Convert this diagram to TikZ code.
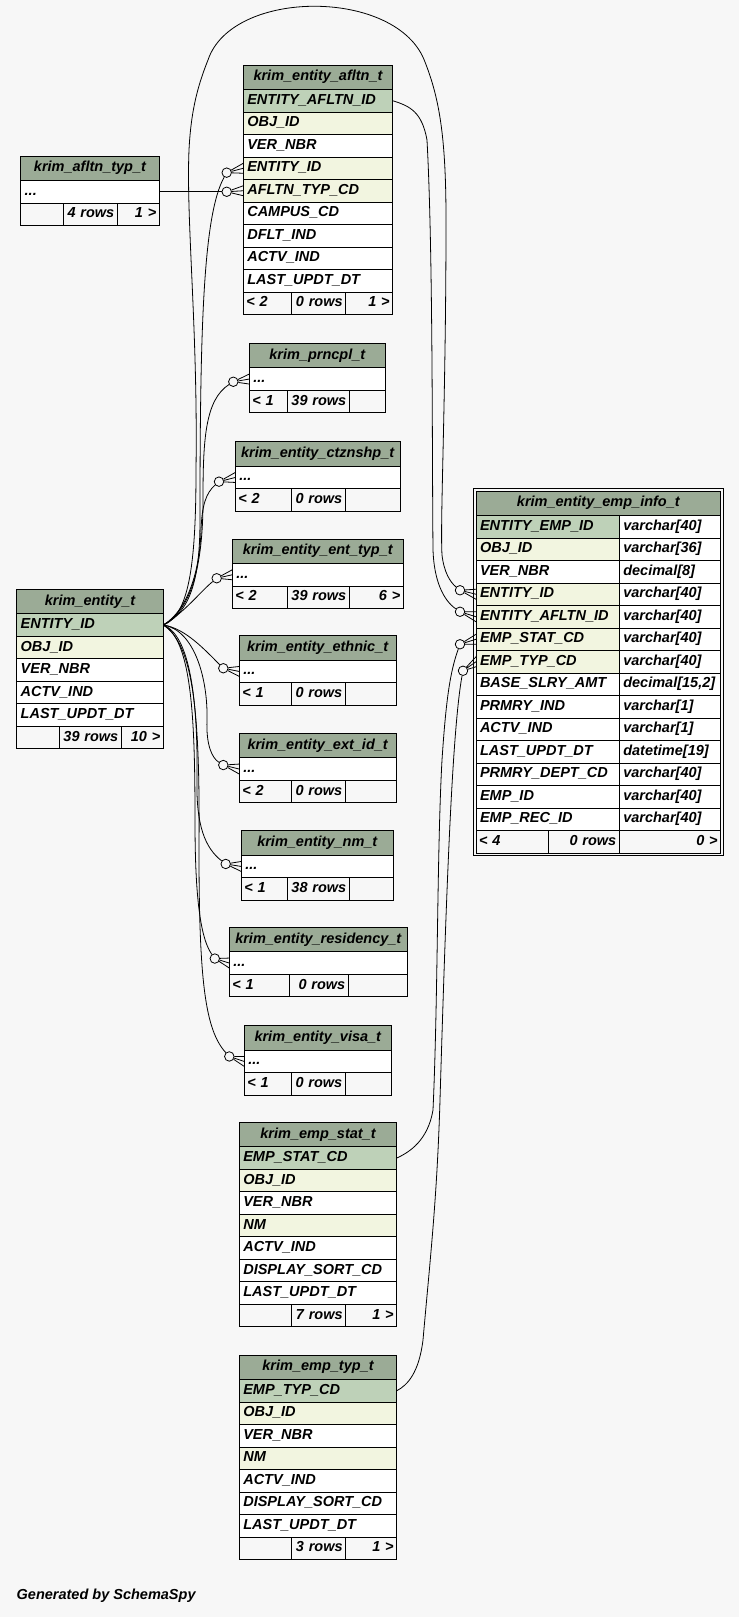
\documentclass[tikz,border=0pt]{standalone}
\usepackage{fontspec}
\setmainfont{Liberation Sans}
\usetikzlibrary{calc,fit}
\definecolor{bg}{HTML}{F7F7F7}
\definecolor{hd}{HTML}{9BAB96}
\definecolor{pk}{HTML}{BED1B8}
\definecolor{ix}{HTML}{F2F5E0}
\definecolor{ft}{HTML}{F7F7F7}
\begin{document}
\begin{tikzpicture}[x=1pt, y=-1pt,
    font=\fontsize{14.5}{17}\selectfont\bfseries\itshape,
    hdr/.style={draw, fill=hd, anchor=north west, outer sep=0, inner sep=0, minimum height=24.5,
      text height=10.5, text depth=3.5, line width=0.9},
    cell/.style={draw, fill=white, anchor=north west, outer sep=0, inner ysep=0, inner xsep=4,
      minimum height=22.5, text height=10.5, text depth=3.5, align=left, line width=0.9},
    foot/.style={cell, fill=ft, inner xsep=3},
    ring/.style={circle, draw, fill=bg, inner sep=0, minimum size=9.5, line width=0.8},
    conn/.style={line width=0.8}]
  \fill[bg] (0,0) rectangle (739,1617);
  \useasboundingbox (0,0) rectangle (739,1617);

  % tables shown collapsed
  \foreach \n/\lbl/\x/\y/\w in {
      afltntyp/krim\_afltn\_typ\_t/20.7/156/138.6,
      prncpl/krim\_prncpl\_t/249.3/343.3/136,
      ctznshp/krim\_entity\_ctznshp\_t/235.3/441.7/164.7,
      enttyp/krim\_entity\_ent\_typ\_t/232.3/539/171,
      ethnic/krim\_entity\_ethnic\_t/239.3/635.7/156.7,
      extid/krim\_entity\_ext\_id\_t/239.3/733.3/156.7,
      nm/krim\_entity\_nm\_t/241.3/830.7/152,
      residency/krim\_entity\_residency\_t/229.3/927.3/178,
      visa/krim\_entity\_visa\_t/244.3/1025.7/147} {
    \pgfmathsetmacro\tw{\w-8}
    \node[hdr, minimum width=\w] (\n) at (\x,\y) {\lbl};
    \node[cell, text width=\tw pt] (\n-dots) at (\x,\y+24.5) {...};
  }

  % krim_entity_afltn_t
  \node[hdr, minimum width=149.4] (afltn) at (243.3,65) {krim\_entity\_afltn\_t};
  \foreach \n/\lbl/\f [count=\i] in {eaid/ENTITY\_AFLTN\_ID/pk, obj/OBJ\_ID/ix, ver/VER\_NBR/white,
      eid/ENTITY\_ID/ix, typ/AFLTN\_TYP\_CD/ix, campus/CAMPUS\_CD/white, dflt/DFLT\_IND/white,
      actv/ACTV\_IND/white, updt/LAST\_UPDT\_DT/white}
    \node[cell, fill=\f, text width=141.4pt] (afltn-\n) at (243.3,67+22.5*\i) {\lbl};

  % krim_entity_t
  \node[hdr, minimum width=146.6] (entity) at (16.7,589.3) {krim\_entity\_t};
  \foreach \n/\lbl/\f [count=\i] in {eid/ENTITY\_ID/pk, obj/OBJ\_ID/ix, ver/VER\_NBR/white,
      actv/ACTV\_IND/white, updt/LAST\_UPDT\_DT/white}
    \node[cell, fill=\f, text width=138.6pt] (entity-\n) at (16.7,591.3+22.5*\i) {\lbl};

  % krim_emp_stat_t and krim_emp_typ_t
  \foreach \tb/\code/\y in {stat/STAT/1122.3, typ/TYP/1355} {
    \node[hdr, minimum width=157.4] (\tb) at (239.3,\y) {krim\_emp\_\MakeLowercase{\code}\_t};
    \foreach \n/\lbl/\f [count=\i] in {cd/EMP\_\code\_CD/pk, obj/OBJ\_ID/ix, ver/VER\_NBR/white,
        nm/NM/ix, actv/ACTV\_IND/white, disp/DISPLAY\_SORT\_CD/white, updt/LAST\_UPDT\_DT/white}
      \node[cell, fill=\f, text width=149.4pt] (\tb-\n) at (239.3,\y+2+22.5*\i) {\lbl};
  }

  % krim_entity_emp_info_t
  \node[hdr, minimum width=244.7] (info) at (476,491) {krim\_entity\_emp\_info\_t};
  \foreach \n/\lbl/\f/\tp [count=\i] in {eeid/ENTITY\_EMP\_ID/pk/varchar[40],
      obj/OBJ\_ID/ix/varchar[36], ver/VER\_NBR/white/decimal[8], eid/ENTITY\_ID/ix/varchar[40],
      eaid/ENTITY\_AFLTN\_ID/ix/varchar[40], stat/EMP\_STAT\_CD/ix/varchar[40],
      typ/EMP\_TYP\_CD/ix/varchar[40], base/BASE\_SLRY\_AMT/white/{decimal[15,2]},
      prmry/PRMRY\_IND/white/varchar[1], actv/ACTV\_IND/white/varchar[1],
      updt/LAST\_UPDT\_DT/white/datetime[19], dept/PRMRY\_DEPT\_CD/white/varchar[40],
      empid/EMP\_ID/white/varchar[40], recid/EMP\_REC\_ID/white/varchar[40]} {
    \node[cell, fill=\f, text width=135.3pt] (info-\n) at (476,493+22.5*\i) {\lbl};
    \node[cell, text width=93.4pt] (info-\n-type) at (619.3,493+22.5*\i) {\tp};
  }

  % footer rows
  \foreach \n/\x/\y/\da/\db/\xe/\fa/\fb/\fc in {
      afltntyp/20.7/203/63.3/117.3/159.3/{}/4 rows/1 >,
      afltn/243.3/292/291.7/345.7/392.7/< 2/0 rows/1 >,
      prncpl/249.3/390.3/287.3/349.3/385.3/< 1/39 rows/{},
      ctznshp/235.3/488.7/291.3/345.3/400/< 2/0 rows/{},
      enttyp/232.3/586/287.3/349.3/403.3/< 2/39 rows/6 >,
      entity/16.7/726.3/59.3/121.3/163.3/{}/39 rows/10 >,
      ethnic/239.3/682.7/291.3/345.3/396/< 1/0 rows/{},
      extid/239.3/780.3/291.3/345.3/396/< 2/0 rows/{},
      nm/241.3/877.7/287.3/349.3/393.3/< 1/38 rows/{},
      residency/229.3/974.3/289.3/348.3/407.3/< 1/0 rows/{},
      visa/244.3/1072.7/291.3/345.3/391.3/< 1/0 rows/{},
      stat/239.3/1304.3/291.7/345.7/396.7/{}/7 rows/1 >,
      typ/239.3/1537/291.7/345.7/396.7/{}/3 rows/1 >,
      info/476/830.5/548.3/619.3/720.7/< 4/0 rows/0 >} {
    \pgfmathsetmacro\wa{\da-\x-6}
    \pgfmathsetmacro\wb{\db-\da-6}
    \pgfmathsetmacro\wc{\xe-\db-6}
    \node[foot, text width=\wa pt] (\n-fl) at (\x,\y) {\fa};
    \node[foot, text width=\wb pt, align=right] (\n-fm) at (\da,\y) {\fb};
    \node[foot, text width=\wc pt, align=right] (\n-fr) at (\db,\y) {\fc};
  }
  \node[draw, line width=1.2, inner sep=2.6, fit=(info)(info-fl)(info-fr)] (info-frame) {};

  % child ends: ring and crow's foot
  \foreach \o/\rw/\dx/\dy in {afltn-eid/afltn-eid/-16.6/4.4, afltn-typ/afltn-typ/-16.6/1,
      prncpl/prncpl-dots/-16/2.7, ctznshp/ctznshp-dots/-16.3/4.2, enttyp/enttyp-dots/-15.6/3.5,
      ethnic/ethnic-dots/-16/-3.2, extid/extid-dots/-16/-4, nm/nm-dots/-15.6/-2.5,
      residency/residency-dots/-14.5/-4.5, visa/visa-dots/-15/-5,
      info-eid/info-eid/-16/-4, info-eaid/info-eaid/-16/-5,
      info-stat/info-stat/-16/5, info-typ/info-typ/-13/9} {
    \node[ring] (o-\o) at ($(\rw.west)+(\dx,\dy)$) {};
    \draw[conn] (o-\o) -- (\rw.west) (o-\o) -- ([yshift=5pt]\rw.west)
      (o-\o) -- ([yshift=-5pt]\rw.west);
  }

  % relationships
  \draw[conn] (afltntyp-dots.east) -- (o-afltn-typ);
  \draw[conn] (entity-eid.east) .. controls (190,612) and (200,580) .. (200,520)
    .. controls (200,330) and (203,215) .. (o-afltn-eid);
  \draw[conn] (entity-eid.east) .. controls (190,610) and (203,570) .. (203,500)
    .. controls (203,440) and (205,400) .. (o-prncpl);
  \draw[conn] (entity-eid.east) .. controls (188,610) and (200,570) .. (201,530)
    .. controls (202,505) and (206,493) .. (o-ctznshp);
  \draw[conn] (entity-eid.east) .. controls (185,612) and (200,592) .. (o-enttyp);
  \draw[conn] (entity-eid.east) .. controls (185,628) and (205,650) .. (o-ethnic);
  \draw[conn] (entity-eid.east) .. controls (195,630) and (208,680) .. (207,720)
    .. controls (206,745) and (212,758) .. (o-extid);
  \draw[conn] (entity-eid.east) .. controls (190,635) and (198,700) .. (197,780)
    .. controls (196,825) and (205,848) .. (o-nm);
  \draw[conn] (entity-eid.east) .. controls (192,640) and (195,720) .. (195,820)
    .. controls (195,880) and (198,935) .. (o-residency);
  \draw[conn] (entity-eid.east) .. controls (195,645) and (200,720) .. (199,850)
    .. controls (199,980) and (205,1030) .. (o-visa);
  \draw[conn] (entity-eid.east) .. controls (188,615) and (196,570) .. (196,470)
    .. controls (198,330) and (186,220) .. (189,150)
    .. controls (191,110) and (198,85) .. (208,60)
    .. controls (232,-12) and (398,-12) .. (425,62)
    .. controls (440,100) and (446,140) .. (446,220)
    .. controls (446,400) and (440,520) .. (442,555)
    .. controls (444,572) and (450,582) .. (o-info-eid);
  \draw[conn] (afltn-eaid.east) .. controls (410,106) and (422,112) .. (427,140)
    .. controls (433,250) and (432,450) .. (433,550)
    .. controls (434,580) and (443,600) .. (o-info-eaid);
  \draw[conn] (stat-cd.east) .. controls (410,1152) and (428,1140) .. (433,1110)
    .. controls (438,1000) and (437,850) .. (442,760)
    .. controls (446,700) and (450,672) .. (o-info-stat);
  \draw[conn] (typ-cd.east) .. controls (408,1385) and (419,1372) .. (423,1340)
    .. controls (430,1260) and (437,1200) .. (440,1100)
    .. controls (446,900) and (452,730) .. (o-info-typ);

  \node[anchor=west, inner sep=0] (credit) at (16.5,1596) {Generated by SchemaSpy};
\end{tikzpicture}
\end{document}
